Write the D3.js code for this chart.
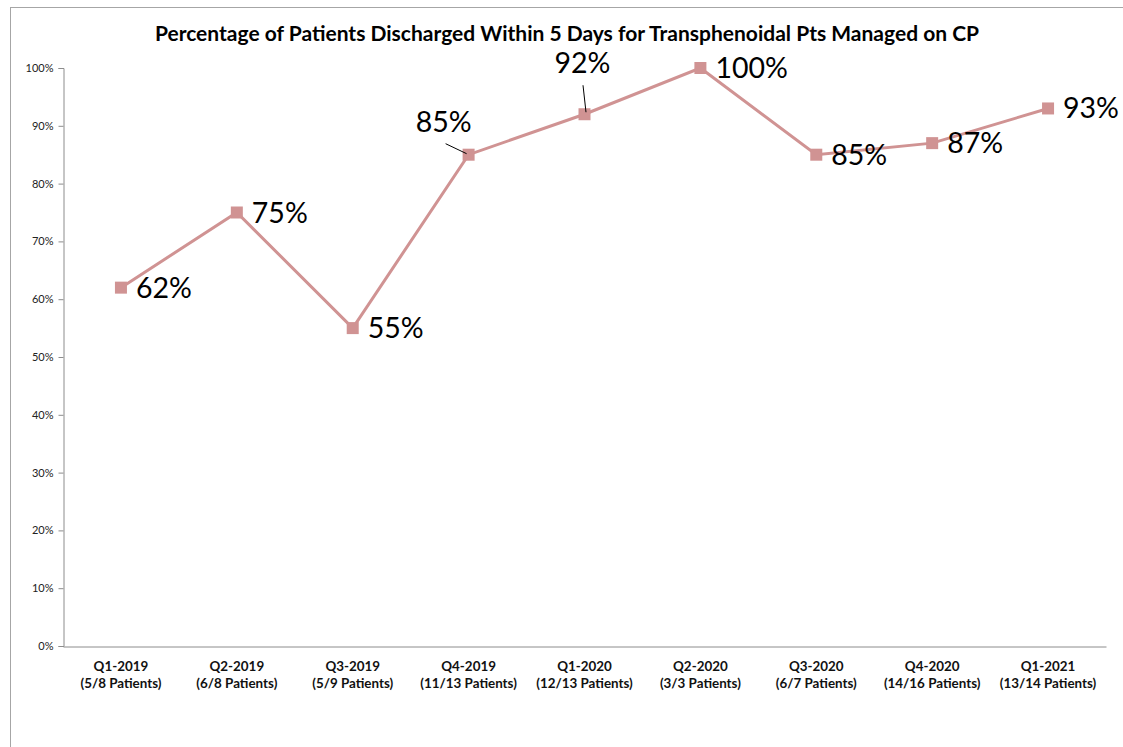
<!DOCTYPE html>
<html>
<head>
<meta charset="utf-8">
<script src="https://cdn.jsdelivr.net/npm/d3@7"></script>
<style>
  body { margin: 0; background: #fff; }
  svg { display: block; font-family: Lato, "Open Sans", sans-serif; }
</style>
</head>
<body>
<div id="chart"></div>
<script>
const quarters = ["Q1-2019", "Q2-2019", "Q3-2019", "Q4-2019", "Q1-2020", "Q2-2020", "Q3-2020", "Q4-2020", "Q1-2021"];
const patients = ["(5/8 Patients)", "(6/8 Patients)", "(5/9 Patients)", "(11/13 Patients)", "(12/13 Patients)", "(3/3 Patients)", "(6/7 Patients)", "(14/16 Patients)", "(13/14 Patients)"];
const values = [62, 75, 55, 85, 92, 100, 85, 87, 93];
const yTicks = [0, 10, 20, 30, 40, 50, 60, 70, 80, 90, 100];

const width = 1123, height = 747;
const margin = { top: 68, right: 17, bottom: 101, left: 63 };

const svg = d3.select("#chart")
    .append("svg")
    .attr("width", width)
    .attr("height", height);

// outer chart border (runs off the right and bottom)
svg.append("rect")
    .attr("x", 10.5).attr("y", 7.5)
    .attr("width", width + 20).attr("height", height + 20)
    .attr("fill", "none")
    .attr("stroke", "#a6a6a6");

svg.append("text")
    .attr("x", 567).attr("y", 41)
    .attr("text-anchor", "middle")
    .attr("font-size", "21px")
    .attr("font-weight", "bold")
    .text("Percentage of Patients Discharged Within 5 Days for Transphenoidal Pts Managed on CP");

const x = d3.scaleBand()
    .domain(quarters)
    .range([margin.left, width - margin.right]);

const y = d3.scaleLinear()
    .domain([0, 100])
    .range([height - margin.bottom, margin.top]);

// y axis
const yAxis = svg.append("g")
    .attr("transform", `translate(${margin.left + 0.5},0)`)
    .call(d3.axisLeft(y).tickValues(yTicks).tickSize(5).tickPadding(5).tickFormat(d => d + "%"));
yAxis.selectAll("line, path").attr("stroke", "#8c8c8c");
yAxis.selectAll("text").attr("font-size", "11px").attr("fill", "#222").attr("font-family", "Lato, sans-serif");

// x axis
const xAxis = svg.append("g")
    .attr("transform", `translate(0,${height - margin.bottom + 0.5})`)
    .call(d3.axisBottom(x).tickSize(0).tickFormat(""));
xAxis.select(".domain").attr("stroke", "#8c8c8c");

const xLabels = svg.append("g")
    .selectAll("text")
    .data(quarters)
    .join("text")
    .attr("x", d => x(d) + x.bandwidth() / 2)
    .attr("y", height - margin.bottom + 25)
    .attr("text-anchor", "middle")
    .attr("font-size", "13.4px")
    .attr("font-weight", "bold")
    .attr("fill", "#111");
xLabels.append("tspan").text(d => d);
xLabels.append("tspan")
    .attr("x", d => x(d) + x.bandwidth() / 2)
    .attr("dy", 17)
    .text((d, i) => patients[i]);

const pts = quarters.map((q, i) => ({ q, v: values[i] }));
const color = "#d09393";

svg.append("path")
    .datum(pts)
    .attr("fill", "none")
    .attr("stroke", color)
    .attr("stroke-width", 3)
    .attr("d", d3.line()
        .x(d => x(d.q) + x.bandwidth() / 2)
        .y(d => y(d.v)));

svg.append("g")
    .selectAll("rect")
    .data(pts)
    .join("rect")
    .attr("x", d => x(d.q) + x.bandwidth() / 2 - 6)
    .attr("y", d => y(d.v) - 6)
    .attr("width", 12)
    .attr("height", 12)
    .attr("fill", color);

// data labels: default to the right, two are lifted with leader lines
const labelOffset = {
    "Q4-2019": { dx: -25, dy: -23, leader: [[-23, -11], [-2, -1]] },
    "Q1-2020": { dx: -2, dy: -41, leader: [[-1.5, -29], [1.5, -2]] }
};

const labels = svg.append("g");
pts.forEach(d => {
    const cx = x(d.q) + x.bandwidth() / 2, cy = y(d.v);
    const o = labelOffset[d.q];
    if (o) {
        labels.append("text")
            .attr("x", cx + o.dx).attr("y", cy + o.dy)
            .attr("text-anchor", "middle")
            .attr("font-size", "28.5px")
            .attr("fill", "#000")
            .text(d.v + "%");
        labels.append("line")
            .attr("x1", cx + o.leader[0][0]).attr("y1", cy + o.leader[0][1])
            .attr("x2", cx + o.leader[1][0]).attr("y2", cy + o.leader[1][1])
            .attr("stroke", "#000").attr("stroke-width", 1);
    } else {
        labels.append("text")
            .attr("x", cx + 15).attr("y", cy + 10)
            .attr("font-size", "28.5px")
            .attr("fill", "#000")
            .text(d.v + "%");
    }
});
</script>
</body>
</html>
